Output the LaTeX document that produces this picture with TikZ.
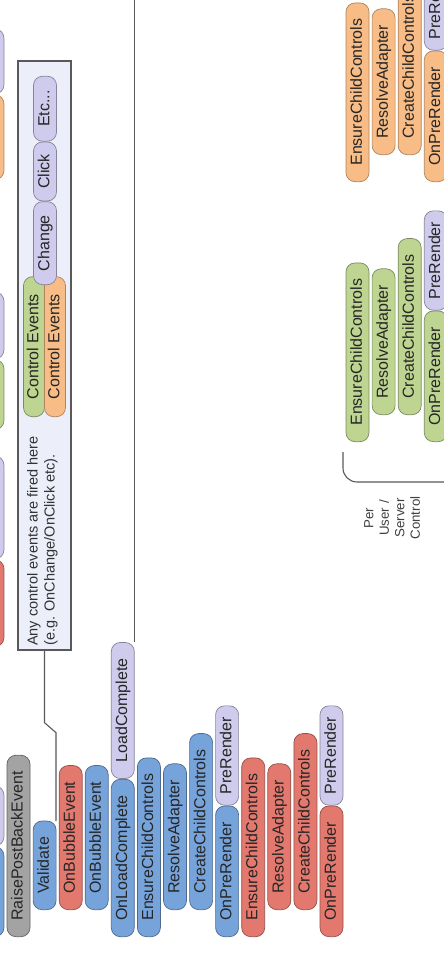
\documentclass[tikz,border=0pt]{standalone}
\usepackage{fontspec}
\setmainfont{Liberation Sans}
\definecolor{pillblue}{HTML}{76A3D9}
\definecolor{pillred}{HTML}{E3796E}
\definecolor{pillgray}{HTML}{A3A3A3}
\definecolor{pillpurple}{HTML}{CFCBEC}
\definecolor{pillgreen}{HTML}{BDD591}
\definecolor{pillorange}{HTML}{F8BC86}
\definecolor{notefill}{HTML}{ECEEFA}

\begin{document}
\begin{tikzpicture}[x=1pt, y=-1pt,
        pill/.style={draw, rounded corners=9pt, rotate=90, anchor=west, minimum height=23pt,
            inner xsep=16pt, inner ysep=0pt, text height=11.5pt, text depth=3pt,
            font=\fontsize{16}{18}\selectfont, text=black!85, line width=0.7pt},
        bluepill/.style={pill, fill=pillblue, draw=pillblue!65!black},
        redpill/.style={pill, fill=pillred, draw=pillred!65!black},
        graypill/.style={pill, fill=pillgray, draw=pillgray!60!black},
        purplepill/.style={pill, fill=pillpurple, draw=pillpurple!65!black},
        greenpill/.style={pill, fill=pillgreen, draw=pillgreen!65!black},
        orangepill/.style={pill, fill=pillorange, draw=pillorange!70!black},
        prepill/.style={purplepill, inner xsep=11pt},
        stub/.style={inner xsep=0pt},
        evt/.style={minimum height=21pt, minimum width=140pt, inner xsep=0pt},
        evtp/.style={inner xsep=0pt},
        note/.style={draw=black!65, fill=notefill, line width=1.3pt, minimum width=53pt,
            minimum height=589pt, inner sep=0pt},
        notetext/.style={rotate=90, anchor=north west, align=left, inner sep=0pt,
            font=\fontsize{14.5}{17}\selectfont, text=black!80},
        pertext/.style={rotate=90, align=center, inner sep=0pt,
            font=\fontsize{13.3}{15.5}\selectfont, text=black!75},
        leader/.style={draw=black!65, line width=1.1pt},
        frame/.style={draw=black!65, line width=1.3pt}]
        \useasboundingbox (0,0) rectangle (444,972);
        \clip (0,0) rectangle (444,972);
        \fill[white] (0,0) rectangle (444,972);

        \node [orangepill, stub, minimum width=85pt] (stubO) at (-7.6,180) {};
        \node [purplepill, stub, minimum width=65pt] (stubOp) at (stubO.east) {};
        \node [greenpill, stub, minimum width=70pt] (stubG) at (-7.6,430) {};
        \node [purplepill, stub, minimum width=67pt] (stubGp) at (stubG.east) {};
        \node [redpill, stub, minimum width=87pt] (stubR) at (-7.6,647) {};
        \node [purplepill, stub, minimum width=103pt] (stubRp) at (stubR.east) {};
        \node [bluepill, stub, minimum width=90pt] (stubB) at (-7.6,937) {};
        \node [purplepill, stub, minimum width=60pt] (stubBp) at (stubB.east) {};

        \node [note] (note) at (44.5,355.5) {};
        \node [greenpill, evt] (ctrlG) at (34,417) {Control Events};
        \node [orangepill, evt] (ctrlO) at (55,417) {Control Events};
        \node [purplepill, evtp, minimum width=83pt] (chg) at (45,285) {Change};
        \node [purplepill, evtp, minimum width=59pt] (clk) at (chg.east) {Click};
        \node [purplepill, evtp, minimum width=65pt] (etc) at (clk.east) {Etc...};
        \node [notetext] (ntxt) at (27,646) {Any control events are fired here\\(e.g. OnChange/OnClick etc).};

        \node [graypill] (rpbe) at (18.5,937) {RaisePostBackEvent};
        \node [bluepill] (val) at (44.6,910) {Validate};
        \node [redpill] (obeR) at (70.7,910) {OnBubbleEvent};
        \node [bluepill] (obeB) at (96.7,910) {OnBubbleEvent};
        \node [bluepill] (olcB) at (122.8,937) {OnLoadComplete};
        \node [purplepill] (lc) at (olcB.east) {LoadComplete};
        \node [bluepill] (eccB) at (148.9,937) {EnsureChildControls};
        \node [bluepill] (raB) at (175.0,910) {ResolveAdapter};
        \node [bluepill] (cccB) at (201.1,910) {CreateChildControls};
        \node [bluepill] (oprB) at (227.1,937) {OnPreRender};
        \node [prepill] (prB) at (oprB.east) {PreRender};

        \node [redpill] (eccR) at (253.2,937) {EnsureChildControls};
        \node [redpill] (raR) at (279.3,910) {ResolveAdapter};
        \node [redpill] (cccR) at (305.4,910) {CreateChildControls};
        \node [redpill] (oprR) at (331.5,937) {OnPreRender};
        \node [prepill] (prR) at (oprR.east) {PreRender};

        \node [greenpill] (eccG) at (357.5,442) {EnsureChildControls};
        \node [greenpill] (raG) at (383.6,415) {ResolveAdapter};
        \node [greenpill] (cccG) at (409.7,415) {CreateChildControls};
        \node [greenpill] (oprG) at (435.8,442) {OnPreRender};
        \node [prepill] (prG) at (oprG.east) {PreRender};

        \node [orangepill] (eccO) at (357.5,182) {EnsureChildControls};
        \node [orangepill] (raO) at (383.6,155) {ResolveAdapter};
        \node [orangepill] (cccO) at (409.7,155) {CreateChildControls};
        \node [orangepill] (oprO) at (435.8,182) {OnPreRender};
        \node [prepill] (prO) at (oprO.east) {PreRender};

        \node [pertext] (per) at (392,518) {Per\\User /\\Server\\Control};
        \coordinate (brtop) at (343,452);
        \coordinate (brend) at (450,482);

        \draw[leader] (note.south) -- ++(0,72) -- ++(11.5,10) |- (val.south east);
        \draw[frame] (lc.south east) -- ++(0,-660);
        \draw[leader, rounded corners=14pt] (brtop) |- (brend);
    \end{tikzpicture}
\end{document}
